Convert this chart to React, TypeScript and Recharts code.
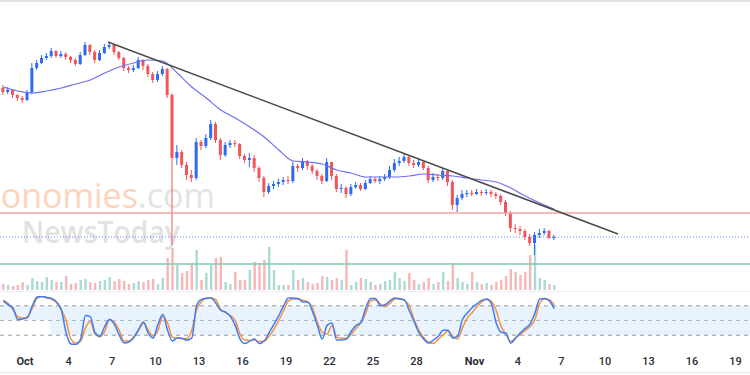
import {
  Bar,
  ComposedChart,
  Line,
  LineChart,
  ReferenceArea,
  ReferenceLine,
  XAxis,
  YAxis,
} from "recharts"

// 8h candles, time in hours since Oct 1 00:00
const firstCandleHour = -36
const candleHours = 8
const firstOpen = 212

const closes = [
  208, 210, 205, 202, 200, 208, 232, 237, 242, 244,
  249, 244, 246, 243, 240, 236, 245, 255, 248, 240,
  247, 253, 255, 248, 242, 232, 230, 232, 240, 234,
  226, 220, 226, 231, 205, 142, 148, 135, 125, 122,
  158, 154, 162, 176, 160, 145, 155, 157, 156, 144,
  140, 142, 132, 122, 108, 114, 116, 118, 120, 119,
  134, 132, 139, 134, 129, 124, 119, 138, 124, 111,
  112, 106, 113, 115, 111, 117, 121, 119, 121, 123,
  130, 137, 139, 143, 137, 135, 138, 132, 120, 123,
  122, 129, 118, 95, 102, 106, 107, 106, 108, 107,
  108, 106, 104, 98, 87, 72, 71, 69, 63, 57,
  65, 67, 69, 62, 63,
]

const highs = [
  215, 213, 211, 206, 204, 210, 237, 240, 245, 247,
  252, 250, 249, 248, 244, 242, 248, 258, 256, 250,
  250, 256, 258, 256, 249, 243, 234, 235, 243, 241,
  236, 228, 229, 234, 232, 207, 155, 150, 138, 130,
  162, 160, 166, 180, 178, 162, 158, 160, 160, 157,
  146, 147, 145, 134, 124, 117, 119, 121, 123, 124,
  138, 136, 142, 140, 136, 131, 126, 142, 138, 126,
  116, 114, 116, 118, 117, 120, 124, 123, 124, 126,
  134, 141, 143, 146, 145, 140, 142, 140, 134, 127,
  126, 132, 130, 120, 105, 110, 110, 110, 111, 110,
  111, 110, 108, 106, 100, 89, 76, 74, 71, 66,
  68, 71, 72, 70, 65,
]

const lows = [
  205, 206, 202, 199, 197, 199, 206, 230, 236, 240,
  242, 242, 242, 240, 237, 234, 235, 244, 245, 237,
  239, 246, 251, 245, 240, 229, 227, 228, 231, 230,
  223, 217, 218, 224, 202, 55, 135, 132, 120, 118,
  120, 150, 152, 160, 157, 140, 143, 152, 153, 141,
  137, 133, 128, 118, 103, 106, 111, 113, 115, 116,
  117, 128, 130, 130, 126, 120, 116, 118, 120, 108,
  107, 102, 104, 111, 109, 110, 116, 117, 116, 119,
  121, 128, 134, 137, 134, 132, 133, 130, 117, 118,
  119, 120, 114, 90, 88, 100, 103, 104, 105, 104,
  105, 103, 101, 95, 84, 68, 67, 65, 60, 54,
  45, 62, 65, 61, 60,
]

const volumes = [
  6, 5, 4, 5, 8, 5, 12, 9, 8, 13,
  10, 8, 8, 14, 6, 7, 10, 11, 8, 7,
  9, 10, 13, 9, 11, 9, 6, 7, 9, 8,
  10, 11, 6, 12, 32, 42, 25, 17, 19, 27,
  40, 10, 17, 25, 32, 33, 8, 6, 18, 10,
  10, 20, 28, 27, 30, 43, 20, 5, 5, 5,
  20, 10, 12, 8, 6, 7, 14, 13, 10, 12,
  10, 40, 5, 8, 12, 11, 8, 5, 6, 9,
  10, 18, 12, 9, 17, 10, 6, 8, 12, 6,
  8, 18, 9, 27, 12, 8, 6, 18, 8, 6,
  7, 5, 8, 10, 14, 21, 18, 15, 18, 35,
  45, 12, 10, 6, 5,
]

// moving average, read once every 3 candles
const maValues = [
  213, 209, 207, 209, 212, 216, 220, 227, 233, 237,
  240, 239, 227, 213, 202, 190, 182, 173, 163, 150,
  139, 138, 136, 130, 127, 123, 123, 123, 124, 126,
  125, 124, 122, 120, 118, 112, 104, 97, 91,
]

const stochK = [
  90, 82, 76, 52, 53, 56, 80, 98, 99, 97,
  95, 88, 72, 25, 2, 1, 12, 60, 58, 25,
  18, 38, 52, 42, 20, 4, 6, 15, 32, 47,
  24, 14, 42, 62, 30, 8, 15, 13, 10, 14,
  80, 93, 95, 96, 85, 71, 67, 58, 40, 12,
  3, 8, 12, 3, 8, 25, 42, 60, 80, 96,
  96, 95, 88, 88, 68, 40, 12, 40, 45, 10,
  10, 12, 28, 40, 46, 75, 95, 95, 80, 82,
  90, 96, 94, 92, 70, 48, 25, 12, 4, 10,
  18, 30, 30, 14, 18, 52, 65, 76, 84, 91,
  94, 84, 45, 26, 24, 4, 14, 25, 34, 43,
  65, 94, 95, 90, 74,
]

const stochD = [
  91, 85, 72, 58, 55, 57, 75, 95, 99, 96,
  93, 87, 72, 50, 12, 4, 8, 35, 48, 22,
  17, 28, 52, 46, 30, 8, 8, 17, 30, 45,
  30, 18, 30, 58, 45, 16, 14, 14, 13, 30,
  72, 88, 96, 96, 92, 72, 66, 60, 50, 22,
  10, 9, 10, 7, 8, 18, 32, 50, 70, 90,
  94, 94, 91, 88, 75, 46, 26, 22, 40, 16,
  14, 14, 22, 34, 45, 65, 90, 92, 84, 78,
  85, 94, 95, 91, 80, 52, 30, 15, 6, 3,
  12, 20, 28, 18, 12, 35, 55, 66, 78, 88,
  93, 89, 70, 38, 22, 7, 15, 22, 30, 38,
  52, 85, 94, 92, 82,
]

const tickDays = [0, 3, 6, 9, 12, 15, 18, 21, 24, 27, 31, 34, 37, 40, 43, 46, 49]
const tickLabels = ["Oct", "4", "7", "10", "13", "16", "19", "22", "25", "28", "Nov", "4", "7", "10", "13", "16", "19"]

const supportLevel = 87
const volumeLevel = 26
const trendline = [
  { hour: 137.4, price: 258 },
  { hour: 981.5, price: 66 },
]

const UP = "#2f6af2"
const DOWN = "#f0555a"
const VOL_UP = "#a9dbd2"
const VOL_DOWN = "#f8b7b6"

const xDomain = [-41.4, 1200]
const tickHours = tickDays.map(d => d * 24)

const candles = closes.map((close, i) => ({
  hour: firstCandleHour + i * candleHours,
  open: i === 0 ? firstOpen : closes[i - 1],
  close,
  high: highs[i],
  low: lows[i],
  volume: volumes[i],
  k: stochK[i],
  d: stochD[i],
}))

const maData = maValues.map((ma, i) => ({
  hour: firstCandleHour + i * 3 * candleHours,
  ma,
}))

const lastClose = closes[closes.length - 1]

function Candle(props: any) {
  const { x, y, width, height, payload } = props
  const up = payload.close >= payload.open
  const color = up ? UP : DOWN
  const range = payload.high - payload.low || 1
  const unit = height / range
  const top = y + (payload.high - Math.max(payload.open, payload.close)) * unit
  const bottom = y + (payload.high - Math.min(payload.open, payload.close)) * unit
  const cx = x + width / 2
  return (
    <g>
      <line x1={cx} x2={cx} y1={y} y2={y + height} stroke={color} strokeWidth={1} />
      <rect x={cx - 1.5} y={top} width={3} height={Math.max(1, bottom - top)} fill={color} />
    </g>
  )
}

function VolumeBar(props: any) {
  const { x, y, width, height, payload } = props
  const up = payload.close >= payload.open
  const cx = x + width / 2
  return <rect x={cx - 1.2} y={y} width={2.4} height={height} fill={up ? VOL_UP : VOL_DOWN} />
}

function DateTick(props: any) {
  const { x, y, payload } = props
  const label = tickLabels[tickHours.indexOf(payload.value)]
  const isMonth = isNaN(Number(label))
  return (
    <text
      x={x}
      y={y + 12}
      textAnchor="middle"
      fontSize={11}
      fontFamily="Roboto, sans-serif"
      fontWeight={isMonth ? 700 : 500}
      fill="#2a2e39"
    >
      {label}
    </text>
  )
}

const noMargin = { top: 0, right: 0, bottom: 0, left: 0 }

export default function App() {
  return (
    <div
      style={{
        position: "absolute",
        left: 0,
        top: 0,
        width: 750,
        height: 375,
        background: "#fff",
        overflow: "hidden",
      }}
    >
      <svg width={750} height={375} style={{ position: "absolute", left: 0, top: 0 }}>
        <text x={215} y={208} textAnchor="end" fontSize={34} fontFamily="Open Sans, sans-serif">
          <tspan fill="#fcd4bb">Economies</tspan>
          <tspan fill="#e4e4e4">.com</tspan>
        </text>
        <text
          x={22}
          y={243}
          fontSize={31}
          fontWeight={600}
          fontFamily="Open Sans, sans-serif"
          fill="#e2e2e2"
          textLength={158}
          lengthAdjust="spacingAndGlyphs"
        >
          NewsToday
        </text>
      </svg>

      <div style={{ position: "absolute", left: 0, top: 0 }}>
        <ComposedChart width={750} height={290} data={candles} margin={noMargin}>
          <XAxis dataKey="hour" type="number" domain={xDomain} hide allowDataOverflow />
          <YAxis hide domain={[0, 290]} allowDataOverflow />
          <Bar dataKey="volume" barSize={3} shape={VolumeBar} isAnimationActive={false} />
          <ReferenceLine y={volumeLevel} stroke="#7ccab6" strokeWidth={1.6} />
        </ComposedChart>
      </div>

      <div style={{ position: "absolute", left: 0, top: 0 }}>
        <ComposedChart width={750} height={291} data={candles} margin={noMargin}>
          <XAxis dataKey="hour" type="number" domain={xDomain} hide allowDataOverflow />
          <YAxis hide domain={[9, 300]} allowDataOverflow />
          <ReferenceLine y={supportLevel} stroke="#f4a3a3" strokeWidth={1.6} />
          <ReferenceLine y={lastClose} stroke="#5a86f5" strokeWidth={1} strokeDasharray="1 2" />
          <Bar
            dataKey={(d: any) => [d.low, d.high]}
            barSize={4}
            shape={Candle}
            isAnimationActive={false}
          />
          <Line
            data={maData}
            dataKey="ma"
            type="monotone"
            stroke="#6d70f0"
            strokeWidth={1.2}
            dot={false}
            isAnimationActive={false}
          />
          <ReferenceLine
            segment={[
              { x: trendline[0].hour, y: trendline[0].price },
              { x: trendline[1].hour, y: trendline[1].price },
            ]}
            stroke="#4a4a4a"
            strokeWidth={1.5}
          />
        </ComposedChart>
      </div>

      <div style={{ position: "absolute", left: 0, top: 292 }}>
        <LineChart width={750} height={80} data={candles} margin={{ top: 4, right: 0, bottom: 0, left: 0 }}>
          <XAxis
            dataKey="hour"
            type="number"
            domain={xDomain}
            allowDataOverflow
            ticks={tickHours}
            interval={0}
            axisLine={false}
            tickLine={false}
            height={27}
            tick={DateTick}
          />
          <YAxis hide domain={[0, 100]} allowDataOverflow />
          <ReferenceArea x1={xDomain[0]} x2={41.4} y1={50} y2={80} fill="#e8f3fd" fillOpacity={1} stroke="none" />
          <ReferenceArea x1={41.4} x2={xDomain[1]} y1={20} y2={80} fill="#e8f3fd" fillOpacity={1} stroke="none" />
          <ReferenceLine y={80} stroke="#9598a1" strokeDasharray="4 4" />
          <ReferenceLine y={50} stroke="#b2b5be" strokeDasharray="4 4" />
          <ReferenceLine y={20} stroke="#9598a1" strokeDasharray="4 4" />
          <Line dataKey="d" type="monotone" stroke="#f7913d" strokeWidth={1.5} dot={false} isAnimationActive={false} />
          <Line dataKey="k" type="monotone" stroke="#3f7cf5" strokeWidth={1.5} dot={false} isAnimationActive={false} />
        </LineChart>
      </div>

      <div style={{ position: "absolute", left: 0, top: 0, width: 750, height: 2, background: "#e3e3e3" }} />
      <div style={{ position: "absolute", left: 0, top: 291, width: 750, height: 1, background: "#eceef2" }} />
      <div style={{ position: "absolute", left: 0, top: 372, width: 750, height: 1, background: "#e3e3e3" }} />
    </div>
  )
}
